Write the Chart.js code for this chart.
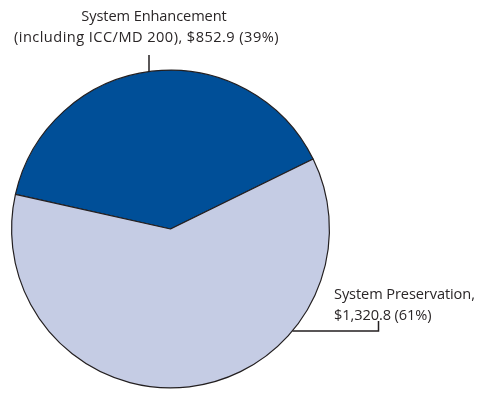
<!DOCTYPE html>
<html>
<head>
<meta charset="utf-8">
<script src="https://cdn.jsdelivr.net/npm/chart.js@4.4.0/dist/chart.umd.min.js"></script>
<style>
  html, body { margin: 0; padding: 0; background: #fff; }
  #wrap { position: relative; width: 481px; height: 393px; }
  .lbl { position: absolute; font-family: "Open Sans", sans-serif; font-size: 14.6px; line-height: 21px; color: #2a2627; white-space: nowrap; letter-spacing: -0.1px; }
  #lblEnh { left: 0; width: 293px; top: 5px; text-align: center; }
  #lblEnh .l1 { position: relative; left: 7.5px; }
  #lblEnh .l2 { letter-spacing: 0.45px; }
  #lblPres { left: 334px; top: 283px; text-align: left; }
</style>
</head>
<body>
<div id="wrap">
  <canvas id="pie" width="481" height="393"></canvas>
  <div class="lbl" id="lblEnh"><span class="l1">System Enhancement</span><br><span class="l2">(including ICC/MD 200), $852.9 (39%)</span></div>
  <div class="lbl" id="lblPres">System Preservation,<br>$1,320.8 (61%)</div>
</div>
<script>
// 予算配分（百万ドル）
const categories = ['System Enhancement (including ICC/MD 200)', 'System Preservation'];
const amounts = [852.9, 1320.8];
const colors = ['#004f98', '#c5cce4'];

// 引き出し線
const leaders = {
  id: 'leaders',
  afterDatasetsDraw(chart) {
    const arc = chart.getDatasetMeta(0).data[0];
    const { x: cx, y: cy, outerRadius: r } = arc;
    const ctx = chart.ctx;
    ctx.save();
    ctx.strokeStyle = '#231f20';
    ctx.lineWidth = 1.5;
    // 上のラベル
    const lx = 149;
    const ty = cy - Math.sqrt(r * r - (lx - cx) * (lx - cx));
    ctx.beginPath();
    ctx.moveTo(lx, 55);
    ctx.lineTo(lx, ty);
    ctx.stroke();
    // 右のラベル
    const ly = 331;
    const rx = cx + Math.sqrt(r * r - (ly - cy) * (ly - cy));
    ctx.beginPath();
    ctx.moveTo(rx, ly);
    ctx.lineTo(378.5, ly);
    ctx.lineTo(378.5, 321);
    ctx.stroke();
    ctx.restore();
  }
};

new Chart(document.getElementById('pie'), {
  type: 'pie',
  data: {
    labels: categories,
    datasets: [{
      data: amounts,
      backgroundColor: colors,
      borderColor: '#231f20',
      borderWidth: 1.2
    }]
  },
  options: {
    responsive: false,
    animation: false,
    rotation: -77.4,
    layout: { padding: { left: 11, right: 151, top: 69.5, bottom: 4.5 } },
    plugins: { legend: { display: false }, tooltip: { enabled: false } }
  },
  plugins: [leaders]
});
</script>
</body>
</html>
